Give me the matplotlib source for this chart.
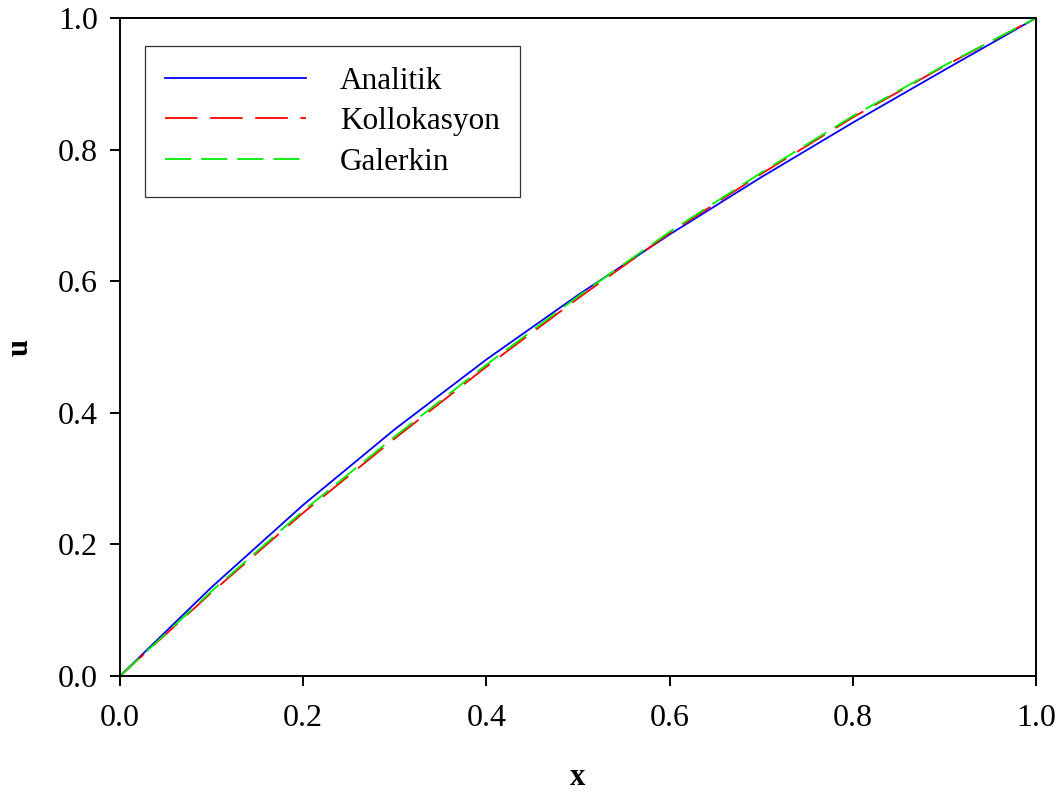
import matplotlib.pyplot as plt

plt.rcParams["font.family"] = "Liberation Serif"

# values
x = [0.0, 0.1, 0.2, 0.3, 0.4, 0.5, 0.6, 0.7, 0.8, 0.9, 1.0]
analitik = [0.0, 0.135, 0.260, 0.375, 0.481, 0.579, 0.671, 0.758, 0.841, 0.921, 1.0]
kollokasyon = [0.0, 0.127, 0.248, 0.361, 0.470, 0.574, 0.673, 0.763, 0.849, 0.927, 1.0]
galerkin = [0.0, 0.129, 0.251, 0.364, 0.473, 0.577, 0.675, 0.765, 0.851, 0.928, 1.0]
labels = ["Analitik", "Kollokasyon", "Galerkin"]

fig = plt.figure(figsize=(10.63, 7.94), dpi=100)
ax = fig.add_axes([120 / 1063, 1 - 676 / 794, 916 / 1063, 658 / 794])

ax.plot(x, analitik, color="blue", lw=1.3, label=labels[0])
ax.plot(x, kollokasyon, color="red", lw=1.3, dashes=(18, 7), label=labels[1])
ax.plot(x, galerkin, color="#00ee00", lw=1.3, dashes=(14.5, 5.5), label=labels[2])

ax.set_xlim(0, 1)
ax.set_ylim(0, 1)
ax.set_xticks([0, 0.2, 0.4, 0.6, 0.8, 1.0])
ax.set_yticks([0, 0.2, 0.4, 0.6, 0.8, 1.0])
ax.xaxis.set_major_formatter(plt.FormatStrFormatter("%.1f"))
ax.yaxis.set_major_formatter(plt.FormatStrFormatter("%.1f"))
ax.tick_params(direction="out", length=7, width=1.4, labelsize=23)
ax.tick_params(axis="x", pad=13)
ax.tick_params(axis="y", pad=9)
for s in ax.spines.values():
    s.set_linewidth(1.4)

ax.set_xlabel("x", fontsize=22, fontweight="bold", va="center")
ax.set_ylabel("u", fontsize=22, fontweight="bold", va="center")
ax.xaxis.set_label_coords(0.5, -0.155)
ax.yaxis.set_label_coords(-0.109, 0.5)

leg = ax.legend(loc="upper left", bbox_to_anchor=(0.027, 0.957), borderaxespad=0,
                fontsize=22.5, handlelength=4.5, handletextpad=1.1, labelspacing=0.37,
                borderpad=0.65, fancybox=False, edgecolor="#333333", framealpha=1)
leg.get_frame().set_linewidth(0.9)

fig.savefig("out.png", dpi=100)
